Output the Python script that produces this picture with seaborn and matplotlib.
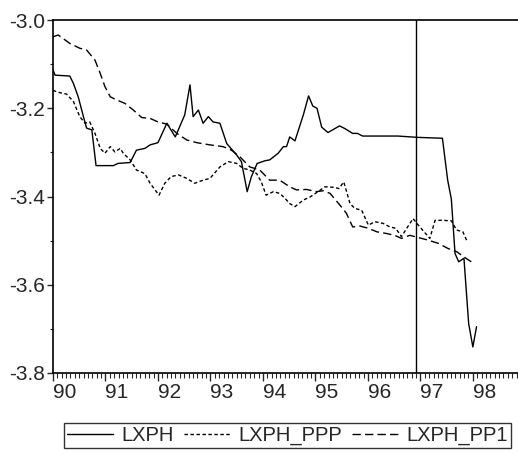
import matplotlib
matplotlib.use("Agg")
import matplotlib.pyplot as plt
from matplotlib import font_manager as fm
from matplotlib.lines import Line2D
from matplotlib.ticker import MultipleLocator
import numpy as np
import pandas as pd
import seaborn as sns

# ---- data (x in decimal years, 90 = 1990) ----
lxph_x = [90.00, 90.04, 90.32, 90.39, 90.48, 90.58, 90.64, 90.74, 90.82, 91.15, 91.24, 91.47,
          91.59, 91.75, 91.85, 92.00, 92.17, 92.33, 92.51, 92.61, 92.67, 92.77, 92.86, 92.96,
          93.05, 93.18, 93.31, 93.50, 93.59, 93.70, 93.78, 93.89, 94.04, 94.13, 94.29, 94.39,
          94.45, 94.51, 94.61, 94.77, 94.87, 94.95, 95.03, 95.12, 95.24, 95.46, 95.56, 95.71,
          95.80, 95.90, 96.57, 96.95, 97.42, 97.52, 97.59, 97.66, 97.73, 97.83, 97.92, 98.00, 98.07]
lxph_y = [-3.113, -3.125, -3.127, -3.144, -3.174, -3.219, -3.245, -3.249, -3.330, -3.330, -3.325, -3.323,
          -3.295, -3.291, -3.283, -3.278, -3.234, -3.265, -3.215, -3.147, -3.219, -3.204, -3.234, -3.219,
          -3.231, -3.234, -3.280, -3.306, -3.321, -3.389, -3.355, -3.325, -3.319, -3.317, -3.302, -3.287,
          -3.287, -3.265, -3.274, -3.215, -3.172, -3.195, -3.200, -3.243, -3.255, -3.240, -3.246, -3.257,
          -3.257, -3.263, -3.263, -3.266, -3.268, -3.363, -3.406, -3.529, -3.548, -3.540, -3.688, -3.741, -3.695]

ppp_x = [90.00, 90.07, 90.26, 90.39, 90.51, 90.61, 90.70, 90.80, 90.90, 90.99, 91.09, 91.18,
         91.28, 91.34, 91.47, 91.59, 91.75, 91.85, 92.02, 92.13, 92.25, 92.39, 92.55, 92.70,
         92.86, 92.99, 93.18, 93.34, 93.50, 93.62, 93.75, 93.88, 93.97, 94.06, 94.20, 94.32,
         94.42, 94.51, 94.61, 94.77, 94.90, 95.05, 95.18, 95.34, 95.45, 95.54, 95.66, 95.75,
         95.88, 96.01, 96.13, 96.29, 96.42, 96.53, 96.64, 96.74, 96.86, 96.99, 97.18, 97.28,
         97.40, 97.59, 97.69, 97.81, 97.88]
ppp_y = [-3.159, -3.163, -3.168, -3.185, -3.219, -3.234, -3.231, -3.257, -3.291, -3.302, -3.287, -3.299,
         -3.291, -3.302, -3.317, -3.340, -3.348, -3.370, -3.397, -3.370, -3.355, -3.351, -3.359, -3.370,
         -3.363, -3.359, -3.333, -3.321, -3.325, -3.336, -3.340, -3.348, -3.367, -3.397, -3.389, -3.393,
         -3.404, -3.416, -3.423, -3.408, -3.401, -3.389, -3.378, -3.379, -3.382, -3.367, -3.416, -3.427,
         -3.431, -3.465, -3.457, -3.461, -3.469, -3.472, -3.491, -3.472, -3.450, -3.469, -3.495, -3.454,
         -3.454, -3.455, -3.476, -3.480, -3.499]

pp1_x = [90.00, 90.10, 90.32, 90.51, 90.64, 90.80, 90.90, 90.99, 91.09, 91.21, 91.37, 91.53,
         91.69, 91.85, 92.00, 92.17, 92.36, 92.55, 92.74, 92.99, 93.24, 93.40, 93.56, 93.75,
         93.94, 94.13, 94.32, 94.51, 94.64, 94.83, 95.02, 95.15, 95.28, 95.47, 95.59, 95.71,
         95.85, 96.01, 96.17, 96.36, 96.51, 96.64, 96.80, 96.96, 97.15, 97.34, 97.53, 97.69,
         97.83, 97.97]
pp1_y = [-3.038, -3.034, -3.053, -3.064, -3.068, -3.091, -3.121, -3.151, -3.174, -3.181, -3.189, -3.204,
         -3.221, -3.223, -3.231, -3.236, -3.257, -3.272, -3.278, -3.283, -3.287, -3.295, -3.310, -3.333,
         -3.340, -3.363, -3.363, -3.378, -3.385, -3.384, -3.389, -3.387, -3.393, -3.420, -3.438, -3.469,
         -3.467, -3.472, -3.480, -3.484, -3.488, -3.495, -3.488, -3.493, -3.499, -3.506, -3.518, -3.525,
         -3.537, -3.548]

series_names = ["LXPH", "LXPH_PPP", "LXPH_PP1"]
year_ticks = [90, 91, 92, 93, 94, 95, 96, 97, 98]
year_labels = ["90", "91", "92", "93", "94", "95", "96", "97", "98"]
y_ticks = [-3.8, -3.6, -3.4, -3.2, -3.0]
y_labels = ["-3.8", "-3.6", "-3.4", "-3.2", "-3.0"]
break_x = 96.92

df = pd.concat([
    pd.DataFrame({"x": lxph_x, "y": lxph_y, "series": series_names[0]}),
    pd.DataFrame({"x": ppp_x, "y": ppp_y, "series": series_names[1]}),
    pd.DataFrame({"x": pp1_x, "y": pp1_y, "series": series_names[2]}),
], ignore_index=True)

sns.set_style("ticks")
plt.rcParams["font.family"] = ["Liberation Sans", "DejaVu Sans"]

fig = plt.figure(figsize=(5.18, 4.55), dpi=100)
ax = fig.add_axes([53 / 518, 1 - 373 / 455, 1 - 53 / 518, (373 - 20) / 455])

dash_map = {"LXPH": "", "LXPH_PPP": (2.5, 1.8), "LXPH_PP1": (6, 3)}
sns.lineplot(data=df, x="x", y="y", style="series", dashes=dash_map, color="black",
             estimator=None, sort=False, linewidth=1.0, ax=ax, legend=False)

ax.axvline(break_x, color="black", linewidth=1.0)

ax.set_xlim(90, 98.86)
ax.set_ylim(-3.8, -3.0)
ax.set_xticks(year_ticks)
ax.set_xticklabels(year_labels, fontsize=15)
ax.set_yticks(y_ticks)
ax.set_yticklabels(y_labels, fontsize=15)
ax.xaxis.set_minor_locator(MultipleLocator(1 / 12))
ax.yaxis.set_minor_locator(MultipleLocator(0.1))
ax.tick_params(axis="x", which="major", length=6, width=1, direction="out", pad=1)
ax.tick_params(axis="x", which="minor", length=3.5, width=0.8, direction="out")
ax.tick_params(axis="y", which="major", length=4, width=1, direction="out", pad=2)
ax.tick_params(axis="y", which="minor", length=2, width=0.8, direction="out")
for lab in ax.get_xticklabels():
    lab.set_horizontalalignment("left")
ax.set_xlabel("")
ax.set_ylabel("")
ax.spines["right"].set_visible(False)
for s in ["left", "bottom", "top"]:
    ax.spines[s].set_color("black")
    ax.spines[s].set_linewidth(1.2)

handles = [
    Line2D([], [], color="black", lw=1.0, linestyle="-"),
    Line2D([], [], color="black", lw=1.0, dashes=(2.5, 1.8)),
    Line2D([], [], color="black", lw=1.0, dashes=(6, 3)),
]
leg = fig.legend(handles, series_names, loc="upper center", bbox_to_anchor=(0.555, 1 - 423 / 455),
                 ncol=3, frameon=True, fancybox=False, edgecolor="black", fontsize=14.5,
                 handlelength=2.3, handletextpad=0.4, columnspacing=0.5, borderpad=0.15,
                 borderaxespad=0)
leg.get_frame().set_linewidth(1.0)

fig.savefig("out.png", dpi=100)
